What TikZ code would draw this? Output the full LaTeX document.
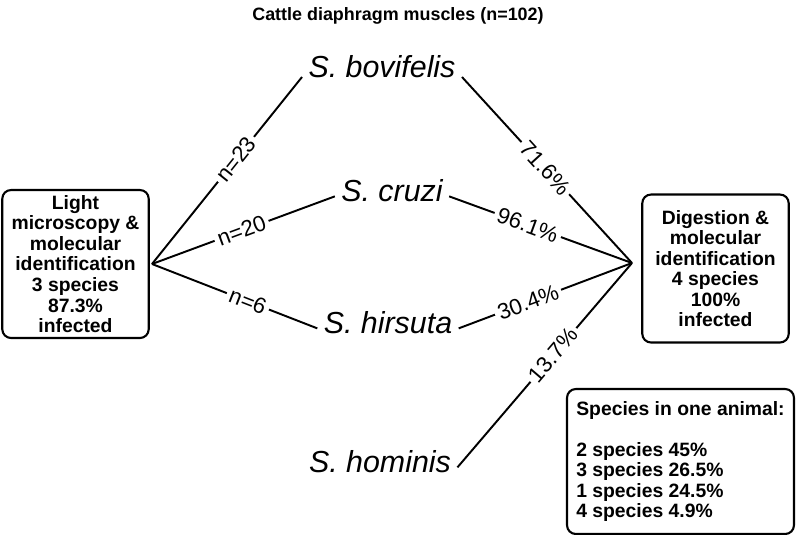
\documentclass[tikz,border=0pt]{standalone}
\usepackage{fontspec}
\setmainfont{Liberation Sans}
\usetikzlibrary{positioning}

\begin{document}
\begin{tikzpicture}[
    x=0.02cm, y=-0.02cm,
    method/.style={
        draw,
        line width=1.2pt,
        rounded corners=5pt,
        align=center,
        font=\fontsize{11}{11.7}\selectfont\bfseries,
        minimum width=2.93cm,
        minimum height=2.96cm,
        inner sep=2pt
    },
    species/.style={
        font=\fontsize{17.3}{20}\selectfont\itshape,
        anchor=base,
        inner xsep=3.5pt
    },
    branch/.style={
        line width=1.1pt
    },
    share/.style={
        sloped,
        fill=white,
        inner sep=2pt,
        font=\fontsize{12.7}{14}\selectfont
    }
]
\useasboundingbox (0,0) rectangle (796,535);

\node[font=\fontsize{10.2}{12}\selectfont\bfseries] (title) at (398,16)
{Cattle diaphragm muscles (n=102)};

\node[method] (micro) at (75.5,264)
{Light\\
microscopy \&\\
molecular\\
identification\\
3 species\\
87.3\%\\
infected};

\node[method] (digest) at (715.5,268.5)
{Digestion \&\\
molecular\\
identification\\
4 species\\
100\%\\
infected};

\node[method, align=left, minimum width=4.54cm, minimum height=2.9cm,
      font=\fontsize{11}{11.6}\selectfont\bfseries] (mix) at (680.5,461.5)
{Species in one animal:\\[11.6pt]
2 species 45\%\\
3 species 26.5\%\\
1 species 24.5\%\\
4 species 4.9\%};

\node[species] (bov) at (382,77) {S. bovifelis};
\node[species] (cru) at (392,201) {S. cruzi};
\node[species] (hir) at (388,333) {S. hirsuta};
\node[species] (hom) at (380,472) {S. hominis};

\coordinate (jL) at (152,264);
\coordinate (jR) at (632,263);

\draw[branch] (jL) -- node[share, pos=.56] {n=23} (bov.base west);
\draw[branch] (jL) -- node[share, pos=.49] {n=20} (cru.mid west);
\draw[branch] (jL) -- node[share, pos=.58] {n=6} (hir.mid west);

\draw[branch] (jR) -- node[share, pos=.51] {71.6\%} (bov.base east);
\draw[branch] (jR) -- node[share, pos=.57] {96.1\%} (cru.mid east);
\draw[branch] (jR) -- node[share, pos=.60] {30.4\%} (hir.mid east);
\draw[branch] (jR) -- node[share, pos=.45] {13.7\%} (hom.mid east);

\end{tikzpicture}
\end{document}
